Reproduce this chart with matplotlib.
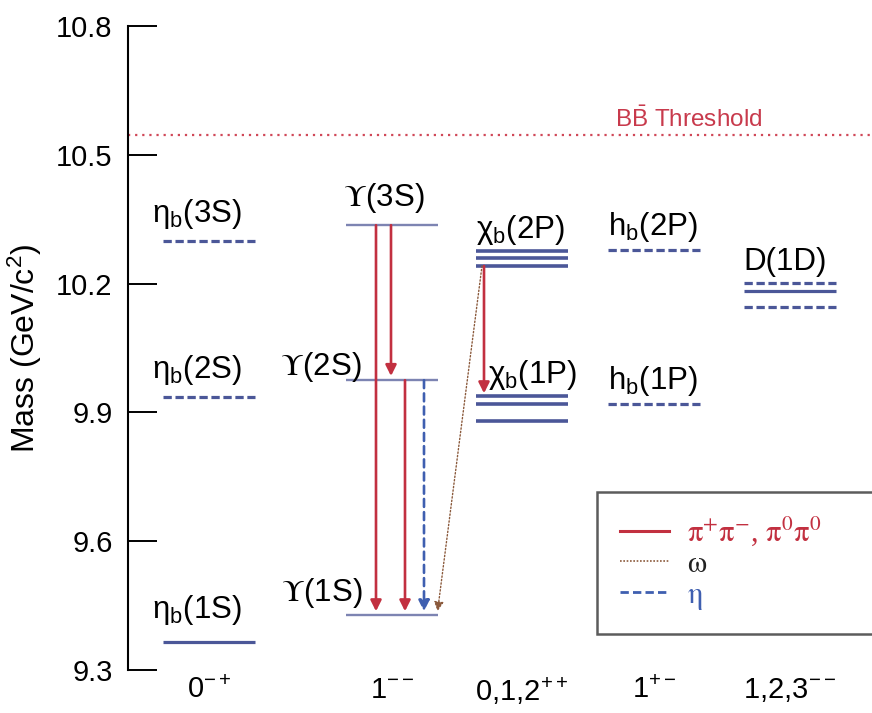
import matplotlib
matplotlib.use("Agg")
import matplotlib.pyplot as plt
from matplotlib.lines import Line2D
from matplotlib.font_manager import FontProperties

plt.rcParams['font.family'] = ['Liberation Sans', 'DejaVu Sans']
plt.rcParams['mathtext.fontset'] = 'custom'
plt.rcParams['mathtext.rm'] = 'Liberation Sans'
plt.rcParams['mathtext.it'] = 'Liberation Sans:italic'

# masses (GeV/c^2)
eta_b = [9.366, 9.935, 10.299]
upsilon = [9.427, 9.975, 10.336]
chi_b2p = [10.276, 10.259, 10.241]
chi_b1p = [9.938, 9.919, 9.879]
h_b = [9.919, 10.278]
d_1d = [10.201, 10.182, 10.145]
d_1d_styles = ['--', '-', '--']
threshold = 10.545

jpc_labels = [r'0$^{-+}$', r'1$^{--}$', r'0,1,2$^{++}$', r'1$^{+-}$', r'1,2,3$^{--}$']

# transitions: (from, to, kind)
ups_transitions = [(upsilon[2], upsilon[0], 'pipi'),
                   (upsilon[2], upsilon[1], 'pipi'),
                   (upsilon[1], upsilon[0], 'pipi'),
                   (upsilon[1], upsilon[0], 'eta')]

# layout (pixel-like x units)
centers = [209, 392, 522, 654, 790]
half = 46
lvl_col = '#4b5798'
ups_col = '#7d84b2'
red = '#c23040'
blue = '#3f5fb0'
brown = '#8b5a3c'
dash = (2.6, 1.15)
fs = 22.5
sym = FontProperties(family='Liberation Sans', size=fs, math_fontfamily='stix')

fig = plt.figure(figsize=(8.72, 7.13), dpi=100)
ax = fig.add_axes([128 / 872, 43 / 713, 744 / 872, 644 / 713])
ax.set_xlim(128, 872)
ax.set_ylim(9.3, 10.8)


def level(c, m, ls='-', color=lvl_col, lw=2.3):
    ln, = ax.plot([c - half, c + half], [m, m], color=color, lw=lw, ls=ls,
                  solid_capstyle='butt')
    if ls == '--':
        ln.set_dashes(dash)


def label(x, m, s, dy, ha='left', **kw):
    kw.setdefault('fontsize', fs)
    ax.text(x, m + dy, s, ha=ha, va='baseline', **kw)


# eta_b column
for i, m in enumerate(eta_b):
    level(centers[0], m, '-' if i == 0 else '--')
for m, name, dy in zip(eta_b, ['1S', '2S', '3S'], [0.055, 0.044, 0.044]):
    label(152, m, r'$\mathrm{\eta_b}$(' + name + ')', dy)

# Upsilon column
for m in upsilon:
    level(centers[1], m, color=ups_col, lw=1.7)
label(343, upsilon[2], r'$\Upsilon$(3S)', 0.044, fontproperties=sym)
label(362, upsilon[1], r'$\Upsilon$(2S)', 0.012, ha='right', fontproperties=sym)
label(363, upsilon[0], r'$\Upsilon$(1S)', 0.033, ha='right', fontproperties=sym)

# chi_b column
for m in chi_b2p + chi_b1p:
    level(centers[2], m, lw=2.6)
label(476, chi_b2p[0], r'$\mathrm{\chi_b}$(2P)', 0.03)
label(488, chi_b1p[0], r'$\mathrm{\chi_b}$(1P)', 0.03)

# h_b column
for m, name in zip(h_b, ['1P', '2P']):
    level(centers[3], m, '--')
    label(608, m, r'h$_\mathrm{b}$(' + name + ')', 0.035)

# D(1D)
for m, ls in zip(d_1d, d_1d_styles):
    level(centers[4], m, ls)
label(743, d_1d[0], 'D(1D)', 0.03)

# BB threshold
ax.plot([128, 872], [threshold, threshold], color='#d04858', lw=1.6, ls=(0, (1, 2.2)))
label(615, threshold, r'B$\mathrm{\bar{B}}$ Threshold', 0.02, color='#c83a4c', fontsize=17.5)

# transitions
arrow_x = [376, 391, 405, 424]
for x, (m0, m1, kind) in zip(arrow_x, ups_transitions):
    col = red if kind == 'pipi' else blue
    ls = '-' if kind == 'pipi' else (0, (3, 2))
    ax.annotate('', xy=(x, m1), xytext=(x, m0),
                arrowprops=dict(arrowstyle='-|>', color=col, lw=1.9, ls=ls,
                                mutation_scale=16, shrinkA=0, shrinkB=3))
ax.annotate('', xy=(484, chi_b1p[0]), xytext=(484, chi_b2p[2]),
            arrowprops=dict(arrowstyle='-|>', color=red, lw=1.9,
                            mutation_scale=16, shrinkA=0, shrinkB=2))
ax.annotate('', xy=(437, upsilon[0]), xytext=(482, chi_b2p[2]),
            arrowprops=dict(arrowstyle='-|>', color=brown, lw=1.0, ls=(0, (1, 1.5)),
                            mutation_scale=14, shrinkA=0, shrinkB=3))

# axes styling
for s in ['top', 'right', 'bottom']:
    ax.spines[s].set_visible(False)
ax.spines['left'].set_bounds(9.3, 10.8)
ax.spines['left'].set_linewidth(1.5)
ax.set_yticks([9.3, 9.6, 9.9, 10.2, 10.5, 10.8])
ax.set_yticklabels(['9.3', '9.6', '9.9', '10.2', '10.5', '10.8'])
ax.tick_params(axis='y', direction='in', length=21, width=1.4, pad=11, labelsize=21)
ax.set_xticks(centers)
ax.set_xticklabels(jpc_labels)
ax.tick_params(axis='x', length=0, pad=4, labelsize=21)
ax.set_ylabel('Mass (GeV/c$^2$)', fontsize=23, labelpad=9)

# legend
handles = [Line2D([], [], color=red, lw=2.2),
           Line2D([], [], color=brown, lw=1.2, ls=(0, (1, 1))),
           Line2D([], [], color=blue, lw=2.0, ls=(0, (3, 1.5)))]
labels = [r'$\mathrm{\pi^{+}\pi^{-}}$, $\mathrm{\pi^0\pi^0}$', r'$\mathrm{\omega}$', r'$\mathrm{\eta}$']
leg = ax.legend(handles, labels, loc='upper left', mode='expand',
                bbox_to_anchor=(597 / 872, 0.105, 0.33, 1 - 492 / 713 - 0.105),
                bbox_transform=fig.transFigure, fancybox=False, borderaxespad=0,
                prop=FontProperties(family='Liberation Serif', size=22, math_fontfamily='stix'),
                handlelength=1.6, handletextpad=0.6, labelspacing=0.05, borderpad=0.75)
leg.get_frame().set_edgecolor('#333333')
leg.get_frame().set_linewidth(1.8)
for t, c in zip(leg.get_texts(), [red, '#222222', blue]):
    t.set_color(c)

fig.savefig('out.png', dpi=100)
